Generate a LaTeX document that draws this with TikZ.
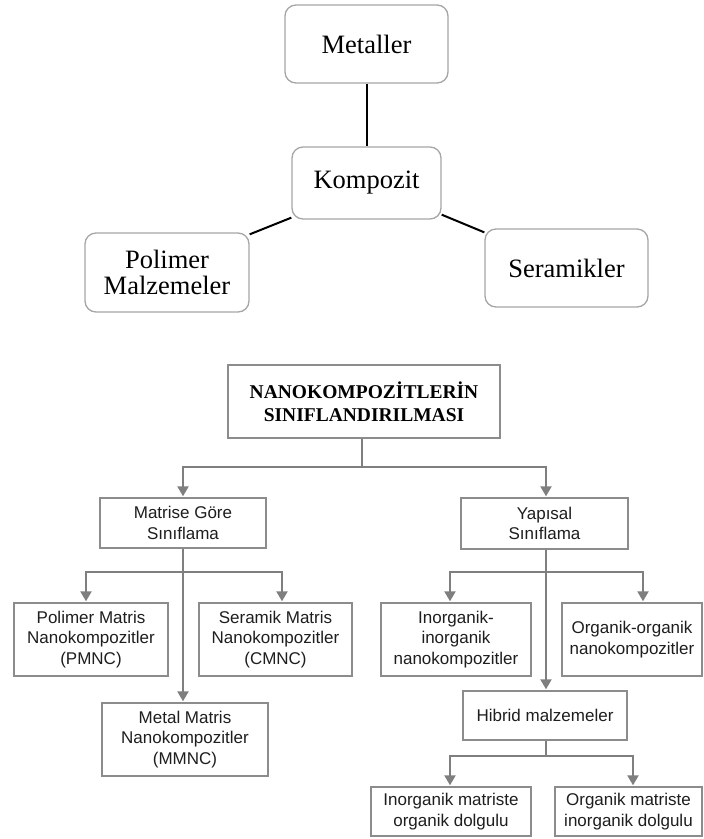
\documentclass[tikz,border=0pt]{standalone}
\usepackage{fontspec}
\setmainfont{Liberation Serif}
\newfontfamily\arialf{Liberation Sans}
\usetikzlibrary{arrows.meta}
\definecolor{topgray}{HTML}{A6A6A6}
\definecolor{boxgray}{HTML}{8C8C8C}
\definecolor{linegray}{HTML}{7F7F7F}
\definecolor{txtgray}{HTML}{1E1E1E}
\begin{document}
\begin{tikzpicture}[x=1pt,y=-1pt,
  topbox/.style={draw=topgray, line width=1.3pt, rounded corners=11pt, align=center,
    font=\fontsize{26.5}{25.5}\selectfont, text=black, inner sep=0pt},
  titlebox/.style={draw=boxgray, line width=1.4pt, align=center,
    font=\bfseries\fontsize{19.5}{23.3}\selectfont, text=black, inner sep=0pt},
  botbox/.style={draw=boxgray, line width=1.4pt, align=center,
    font=\arialf\fontsize{17}{20.5}\selectfont, text=txtgray, inner sep=0pt},
  tline/.style={black, line width=2pt},
  gline/.style={linegray, line width=2.2pt},
  garr/.style={gline, -{Triangle[length=10pt,width=11pt]}, shorten >=1pt}]
\useasboundingbox (0,0) rectangle (704,839);
\fill[white] (0,0) rectangle (704,839);

% top diagram
\node[topbox, minimum width=163pt, minimum height=78pt] (metal) at (366.5,44) {Metaller};
\node[topbox, minimum width=149pt, minimum height=72pt] (komp) at (366.5,183) {Kompozit};
\node[topbox, minimum width=164pt, minimum height=79pt] (pol) at (167,272.5) {Polimer\\Malzemeler};
\node[topbox, minimum width=163pt, minimum height=78pt] (ser) at (566.5,268) {Seramikler};
\draw[tline] (metal.south) -- (komp.north);
\draw[tline] ([yshift=2pt]komp.south west) -- ([yshift=-2pt]pol.north east);
\draw[tline] ([yshift=5pt]komp.south east) -- ([yshift=-4pt]ser.north west);

% bottom diagram
\node[titlebox, minimum width=272pt, minimum height=73pt] (title) at (364,401.5) {NANOKOMPOZİTLERİN\\SINIFLANDIRILMASI};
\node[botbox, minimum width=166pt, minimum height=50pt] (mat) at (183,523) {Matrise Göre\\Sınıflama};
\node[botbox, minimum width=167pt, minimum height=51pt] (yap) at (544.5,523.5) {Yapısal\\Sınıflama};
\node[botbox, minimum width=154pt, minimum height=73pt] (pm) at (91,639.5) {Polimer Matris\\Nanokompozitler\\(PMNC)};
\node[botbox, minimum width=153pt, minimum height=73pt] (cm) at (275.5,639.5) {Seramik Matris\\Nanokompozitler\\(CMNC)};
\node[botbox, minimum width=166pt, minimum height=73pt] (mm) at (185,739.5) {Metal Matris\\Nanokompozitler\\(MMNC)};
\node[botbox, minimum width=150pt, minimum height=73pt] (ii) at (456,639.5) {Inorganik-\\inorganik\\nanokompozitler};
\node[botbox, minimum width=140pt, minimum height=73pt] (oo) at (632,639.5) {Organik-organik\\nanokompozitler};
\node[botbox, minimum width=164pt, minimum height=49pt] (hib) at (545,715.5) {Hibrid malzemeler};
\node[botbox, minimum width=160pt, minimum height=49pt] (imo) at (451,811.5) {Inorganik matriste\\organik dolgulu};
\node[botbox, minimum width=147pt, minimum height=49pt] (omi) at (628.5,811.5) {Organik matriste\\inorganik dolgulu};

\coordinate (j0) at (362,467);
\coordinate (jl) at (183,467);
\coordinate (jr) at (546,467);
\draw[gline] (title.south -| j0) -- (j0);
\draw[garr] (j0) -- (jl) -- (jl |- mat.north);
\draw[garr] (j0) -- (jr) -- (jr |- yap.north);

\coordinate (a1) at (86,572);
\coordinate (a2) at (282,572);
\draw[garr] (mat.south) -- (mat.south |- mm.north);
\draw[garr] (a2) -- (a1) -- (a1 |- pm.north);
\draw[garr] (a1) -- (a2) -- (a2 |- cm.north);

\coordinate (b1) at (450,572);
\coordinate (b2) at (643,572);
\coordinate (bm) at (546,572);
\draw[garr] (yap.south -| bm) -- (hib.north -| bm);
\draw[garr] (b2) -- (b1) -- (b1 |- ii.north);
\draw[garr] (b1) -- (b2) -- (b2 |- oo.north);

\coordinate (c0) at (546,756);
\coordinate (c1) at (450,756);
\coordinate (c2) at (633,756);
\draw[gline] (hib.south -| c0) -- (c0);
\draw[garr] (c0) -- (c1) -- (c1 |- imo.north);
\draw[garr] (c0) -- (c2) -- (c2 |- omi.north);
\end{tikzpicture}
\end{document}
